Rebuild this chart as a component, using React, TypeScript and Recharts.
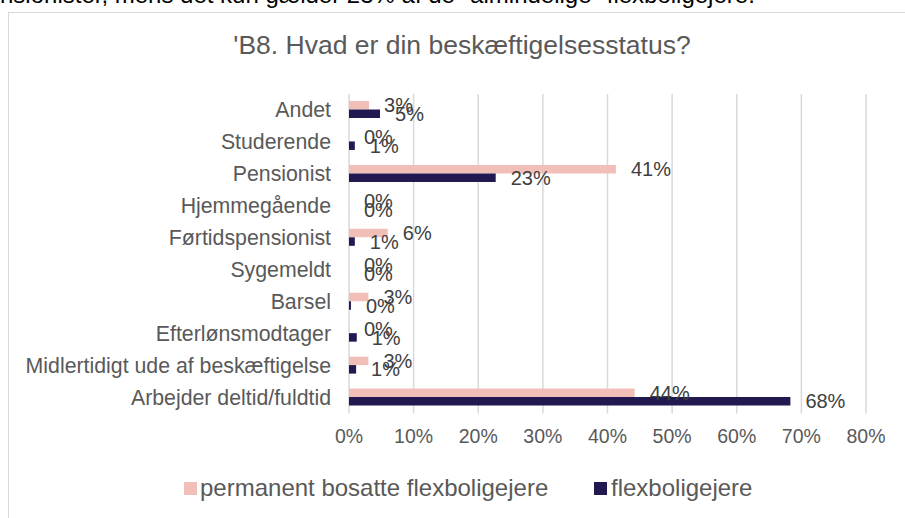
import React from 'react';
import { BarChart, Bar, XAxis, YAxis, CartesianGrid, LabelList, Legend } from 'recharts';

const categories = [
  'Andet',
  'Studerende',
  'Pensionist',
  'Hjemmegående',
  'Førtidspensionist',
  'Sygemeldt',
  'Barsel',
  'Efterlønsmodtager',
  'Midlertidigt ude af beskæftigelse',
  'Arbejder deltid/fuldtid',
];
const permanentValues = [3.1, 0, 41.3, 0, 6.0, 0, 3.0, 0, 3.0, 44.2];
const flexValues = [4.8, 0.9, 22.7, 0, 0.9, 0, 0.3, 1.2, 1.1, 68.3];
const xTicks = [0, 10, 20, 30, 40, 50, 60, 70, 80];
const seriesNames = ['permanent bosatte flexboligejere', 'flexboligejere'];
const colors = ['#F1BFB8', '#21194F'];
const titleText = "'B8. Hvad er din beskæftigelsesstatus?";
const topText = 'nsionister, mens det kun gælder 23% af de "almindelige" flexboligejere.';

const data = categories.map((c, i) => ({ name: c, perm: permanentValues[i], flex: flexValues[i] }));

const FONT = '"Liberation Sans", Arial, sans-serif';
const TEXT = '#595959';

const YTick = (props: any) => {
  const { y, payload } = props;
  return (
    <text x={331} y={y} dy={7} textAnchor="end" fill={TEXT} fontSize={21.3} fontFamily={FONT}>
      {payload.value}
    </text>
  );
};

const XTick = (props: any) => {
  const { x, payload } = props;
  return (
    <text x={x} y={443} textAnchor="middle" fill={TEXT} fontSize={19.5} fontFamily={FONT}>
      {payload.value}%
    </text>
  );
};

const LegendContent = () => (
  <div style={{ position: 'relative', width: 905, height: 30, fontFamily: FONT, fontSize: 24, color: TEXT }}>
    <div style={{ position: 'absolute', left: 184, top: 8, width: 13, height: 13, background: colors[0] }} />
    <div style={{ position: 'absolute', left: 200, top: 0, lineHeight: '28px', whiteSpace: 'nowrap' }}>{seriesNames[0]}</div>
    <div style={{ position: 'absolute', left: 594, top: 8, width: 13, height: 13, background: colors[1] }} />
    <div style={{ position: 'absolute', left: 611, top: 0, lineHeight: '28px', whiteSpace: 'nowrap' }}>{seriesNames[1]}</div>
  </div>
);

const fmt = (v: any) => `${Math.round(Number(v))}%`;

export default function App() {
  return (
    <div style={{ position: 'absolute', left: 0, top: 0, width: 905, height: 518, overflow: 'hidden', background: '#fff' }}>
      <div style={{ position: 'absolute', left: 0, top: -19, fontFamily: FONT, fontSize: 24, color: '#000', whiteSpace: 'nowrap' }}>
        {topText}
      </div>
      <div style={{ position: 'absolute', left: 8, top: 12, width: 920, height: 530, border: '1px solid #D9D9D9', boxSizing: 'border-box' }} />
      <div style={{ position: 'absolute', left: 0, top: 30, width: 924, textAlign: 'center', fontFamily: FONT, fontSize: 26.5, color: TEXT, whiteSpace: 'nowrap' }}>
        {titleText}
      </div>
      <div style={{ position: 'absolute', left: 0, top: 0 }}>
        <BarChart
          width={905}
          height={518}
          data={data}
          layout="vertical"
          margin={{ top: 94, right: 39, bottom: 44.5, left: 0 }}
          barGap={0}
        >
          <CartesianGrid horizontal={false} vertical={true} stroke="#D9D9D9" strokeWidth={1.5} />
          <XAxis type="number" domain={[0, 80]} ticks={xTicks} axisLine={false} tickLine={false} tick={<XTick />} height={30} />
          <YAxis type="category" dataKey="name" width={349} axisLine={false} tickLine={false} tick={<YTick />} interval={0} />
          <Legend
            verticalAlign="bottom"
            content={<LegendContent />}
            wrapperStyle={{ position: 'absolute', left: 0, top: 474, width: 905 }}
          />
          <Bar dataKey="perm" name={seriesNames[0]} fill={colors[0]} barSize={8.5} minPointSize={0.01} isAnimationActive={false}>
            <LabelList dataKey="perm" position="right" offset={15} formatter={fmt} fill="#404040" fontSize={20} fontFamily={FONT} />
          </Bar>
          <Bar dataKey="flex" name={seriesNames[1]} fill={colors[1]} barSize={8.5} minPointSize={0.01} isAnimationActive={false}>
            <LabelList dataKey="flex" position="right" offset={15} formatter={fmt} fill="#404040" fontSize={20} fontFamily={FONT} />
          </Bar>
        </BarChart>
      </div>
    </div>
  );
}
